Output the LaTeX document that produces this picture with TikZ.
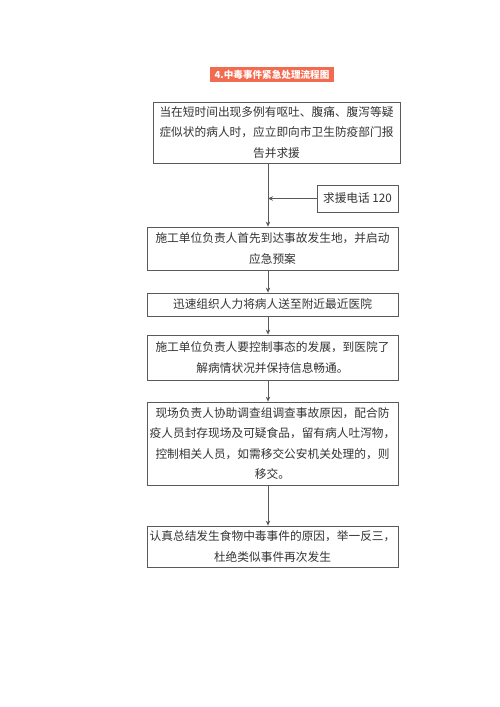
\documentclass[tikz,border=0pt]{standalone}
\usepackage{fontspec}
\newfontfamily\cjk{Noto Sans CJK SC}
\usetikzlibrary{arrows.meta}
\definecolor{linegray}{HTML}{5A5A5A}
\definecolor{txtgray}{HTML}{333333}
\definecolor{titlered}{HTML}{F26B50}
\tikzset{
  stepbox/.style={draw=linegray, line width=0.8pt, rectangle, align=center, inner sep=0pt,
    font=\cjk\fontsize{11.7}{20.5}\selectfont, text=txtgray},
  arr/.style={draw=linegray, line width=0.8pt, -{Stealth[length=5pt,width=4.5pt]}},
}
\begin{document}
\begin{tikzpicture}[x=1pt,y=-1pt]
\useasboundingbox[fill=white] (0,0) rectangle (500,707);
\node[fill=titlered, text=white, font=\cjk\bfseries\fontsize{9.6}{10}\selectfont, minimum width=124pt, minimum height=15pt, inner sep=0pt] (title) at (272,74.5) {4.中毒事件紧急处理流程图};
\node[stepbox, minimum width=247pt, minimum height=61pt] (b1) at (276.5,132.5)
  {当在短时间出现多例有呕吐、腹痛、腹泻等疑\\症似状的病人时，应立即向市卫生防疫部门报\\告并求援};
\node[stepbox, minimum width=81pt, minimum height=27pt] (call) at (357.5,198.5) {求援电话 120};
\node[stepbox, minimum width=251pt, minimum height=43pt] (b2) at (272.5,248.5)
  {施工单位负责人首先到达事故发生地，并启动\\应急预案};
\node[stepbox, minimum width=251pt, minimum height=23pt] (b3) at (272.5,304.5)
  {迅速组织人力将病人送至附近最近医院};
\node[stepbox, minimum width=251pt, minimum height=45pt] (b4) at (272.5,357.5)
  {施工单位负责人要控制事态的发展，到医院了\\解病情状况并保持信息畅通。};
\node[stepbox, minimum width=251pt, minimum height=83pt] (b5) at (272.5,443.5)
  {现场负责人协助调查组调查事故原因，配合防\\疫人员封存现场及可疑食品，留有病人吐泻物，\\控制相关人员，如需移交公安机关处理的，则\\移交。};
\node[stepbox, minimum width=251pt, minimum height=41pt] (b6) at (272.5,546.5)
  {认真总结发生食物中毒事件的原因，举一反三，\\杜绝类似事件再次发生};
\coordinate (cx) at (268,0);
\draw[arr] (b1.south -| cx) -- (b2.north -| cx);
\draw[arr] (call.west) -- (call.west -| cx);
\draw[arr] (b2.south -| cx) -- (b3.north -| cx);
\draw[arr] (b3.south -| cx) -- (b4.north -| cx);
\draw[arr] (b4.south -| cx) -- (b5.north -| cx);
\draw[arr] (b5.south -| cx) -- (b6.north -| cx);
\end{tikzpicture}
\end{document}
